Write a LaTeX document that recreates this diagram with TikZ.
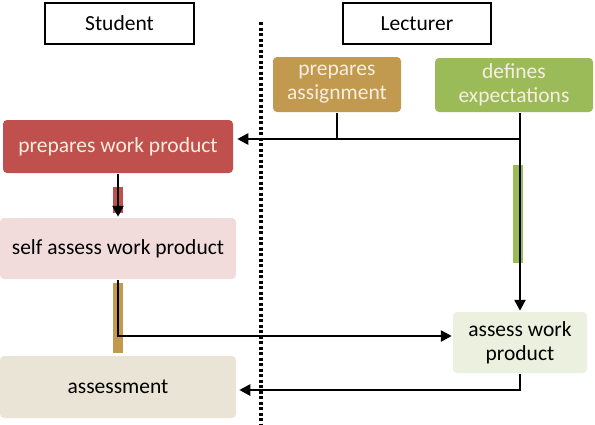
\documentclass[tikz,border=0pt]{standalone}
\usepackage{fontspec}
\setmainfont{Carlito}
\usetikzlibrary{arrows.meta}

\definecolor{redbox}{HTML}{C0504D}
\definecolor{pinkbox}{HTML}{F2DCDB}
\definecolor{tanbox}{HTML}{C19A50}
\definecolor{beigebox}{HTML}{EAE4D6}
\definecolor{greenbox}{HTML}{9BBB59}
\definecolor{lightgreen}{HTML}{EBF1DE}
\definecolor{paletext}{HTML}{F8EEE0}

\begin{document}
\begin{tikzpicture}[x=1pt, y=-1pt, >={Triangle[length=11pt,width=11pt]}, line width=2.5pt,
    box/.style={rounded corners=4pt, inner sep=0pt, align=center, font=\fontsize{21.5}{24}\selectfont},
    role/.style={draw, line width=2pt, inner sep=0pt, font=\fontsize{21.5}{24}\selectfont}]
    \useasboundingbox (0,0) rectangle (595,424);

    % Lane headings
    \node[role, minimum width=149pt, minimum height=41pt] (stu) at (119.5,23.5) {Student};
    \node[role, minimum width=148pt, minimum height=41pt] (lec) at (417,23.5) {Lecturer};
    \draw[line width=3.2pt, dash pattern=on 3pt off 2.5pt] (261,22) -- (261,424);

    % Lecturer tasks
    \node[box, fill=tanbox, text=paletext, minimum width=128pt, minimum height=55pt] (pa) at (337,84.5) {prepares\\assignment};
    \node[box, fill=greenbox, text=paletext, minimum width=158pt, minimum height=54pt] (de) at (514,85) {defines\\expectations};
    \node[box, fill=lightgreen, minimum width=134pt, minimum height=61pt] (awp) at (520,342.5) {assess work\\product};

    % Student tasks
    \node[box, fill=redbox, text=paletext, minimum width=230pt, minimum height=53pt] (pwp) at (118,146.5) {prepares work product};
    \node[box, fill=pinkbox, minimum width=236pt, minimum height=61pt] (sa) at (118,248.5) {self assess work product};
    \node[box, fill=beigebox, minimum width=236pt, minimum height=62pt] (as) at (118,387) {assessment};

    % Coloured bars behind the connectors
    \fill[redbox] (113,187) rectangle (123,213);
    \fill[tanbox] (113,283) rectangle (123,353);
    \fill[greenbox] (513,165) rectangle (523,263);

    % Junctions
    \coordinate (j1) at (520,139);
    \coordinate (j2) at (118,336);
    \coordinate (j3) at (520,390);

    \draw[->] (j1 |- de.south) -- (awp.north);
    \draw (pa.south) -- (pa.south |- j1);
    \draw[->] (j1) -- ([xshift=3pt]j1 -| pwp.east);
    \draw[->] (pwp.south) -- (sa.north);
    \draw[->] (sa.south) -- (j2) -- (j2 -| awp.west);
    \draw[->] (awp.south) -- (j3) -- ([xshift=2pt]j3 -| as.east);
\end{tikzpicture}
\end{document}
